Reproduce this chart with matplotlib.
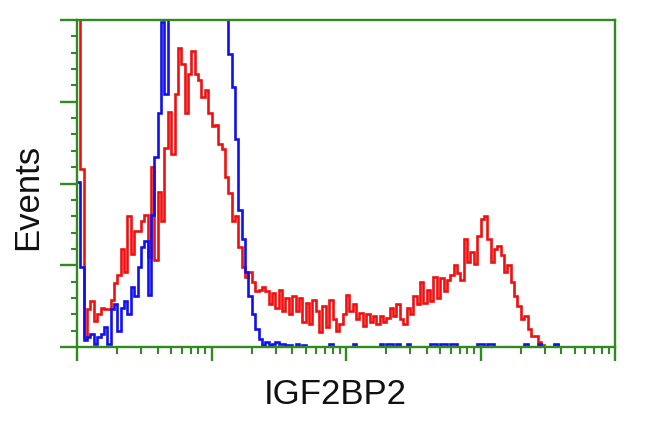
import numpy as np
import matplotlib
matplotlib.use("Agg")
import matplotlib.pyplot as plt
from matplotlib.ticker import MultipleLocator, LogLocator, NullFormatter

# ---- data (histogram counts per log-spaced channel bin, 40 bins per decade, 4 decades) ----
n_bins = 160
bins_per_decade = 40

red_counts = [260, 109, 6, 23, 28, 16, 20, 24, 23, 23,
              29, 39, 44, 60, 46, 80, 57, 71, 71, 77,
              81, 55, 110, 53, 95, 77, 122, 144, 118, 155,
              183, 173, 143, 167, 181, 167, 163, 153, 157, 143,
              135, 136, 124, 121, 104, 94, 77, 80, 61, 49,
              43, 46, 40, 34, 35, 37, 34, 26, 33, 24,
              35, 22, 30, 20, 31, 22, 30, 15, 27, 14,
              29, 22, 9, 25, 12, 29, 17, 10, 14, 20,
              32, 22, 26, 17, 21, 13, 20, 15, 19, 14,
              19, 15, 18, 24, 19, 26, 17, 14, 24, 20,
              31, 26, 40, 27, 35, 28, 43, 30, 42, 34,
              41, 44, 50, 45, 41, 66, 52, 58, 51, 68,
              78, 80, 66, 52, 60, 62, 56, 46, 50, 40,
              31, 25, 17, 19, 11, 7, 7, 3, 1, 0,
              0, 0, 1, 0, 0, 0, 0, 0, 0, 0,
              0, 0, 0, 0, 0, 0, 0, 0, 0, 0]

blue_counts = [101, 49, 4, 6, 8, 2, 6, 8, 12, 2,
               23, 26, 10, 24, 28, 20, 37, 31, 49, 61,
               65, 32, 81, 116, 143, 199, 155, 260, 260, 260,
               260, 260, 260, 260, 260, 260, 260, 260, 260, 260,
               260, 260, 260, 260, 260, 179, 159, 127, 84, 66,
               46, 31, 20, 11, 5, 1, 3, 1, 2, 3,
               2, 2, 1, 1, 0, 2, 0, 1, 0, 0,
               0, 0, 0, 0, 0, 2, 0, 0, 0, 0,
               0, 0, 2, 0, 0, 0, 0, 0, 0, 0,
               2, 0, 2, 2, 0, 2, 0, 0, 2, 0,
               0, 0, 0, 0, 0, 2, 2, 0, 2, 2,
               0, 2, 2, 0, 0, 0, 0, 0, 0, 2,
               2, 0, 2, 2, 0, 0, 0, 0, 0, 0,
               0, 0, 0, 2, 0, 0, 0, 2, 0, 0,
               0, 0, 2, 0, 0, 0, 0, 0, 0, 0,
               0, 0, 0, 0, 0, 0, 0, 0, 0, 0]

x_label = "IGF2BP2"
y_label = "Events"
x_range = (1, 1e4)
y_range = (0, 200)

# ---- figure ----
plt.rcParams['font.family'] = ['Liberation Sans', 'DejaVu Sans']
W, H = 650, 431
fig = plt.figure(figsize=(W / 100, H / 100), dpi=100)
ax = fig.add_axes([77 / W, 1 - 348 / H, (615 - 77) / W, (348 - 21) / H])

edges = 10 ** (np.arange(n_bins + 1) / bins_per_decade)
ax.stairs(red_counts, edges, color='#f01010', lw=1.9, baseline=None)
ax.stairs(blue_counts, edges, color='#1010f0', lw=1.9, baseline=None)

green = '#2f8a1f'
ax.set_xscale('log')
ax.set_xlim(*x_range)
ax.set_ylim(*y_range)
for s in ax.spines.values():
    s.set_color(green)
    s.set_linewidth(1.7)

ax.xaxis.set_major_locator(LogLocator(base=10, numticks=10))
ax.xaxis.set_minor_locator(LogLocator(base=10, subs=np.arange(2, 10), numticks=20))
ax.xaxis.set_major_formatter(NullFormatter())
ax.xaxis.set_minor_formatter(NullFormatter())
ax.yaxis.set_major_locator(MultipleLocator(50))
ax.yaxis.set_minor_locator(MultipleLocator(10))
ax.yaxis.set_major_formatter(NullFormatter())

ax.tick_params(axis='x', which='major', direction='out', length=10, width=1.7, color=green, bottom=True, top=False)
ax.tick_params(axis='x', which='minor', direction='out', length=5, width=1.5, color=green, bottom=True, top=False)
ax.tick_params(axis='y', which='major', direction='out', length=12, width=1.7, color=green, left=True, right=False)
ax.tick_params(axis='y', which='minor', direction='out', length=4, width=1.5, color=green, left=True, right=False)

fig.text(335 / W, 1 - 395 / H, x_label, ha='center', va='center', fontsize=25, color='#111111')
fig.text(28 / W, 1 - 197 / H, y_label, ha='center', va='center', rotation=90, fontsize=25, color='#111111')

fig.savefig('out.png', dpi=100, facecolor='white')
